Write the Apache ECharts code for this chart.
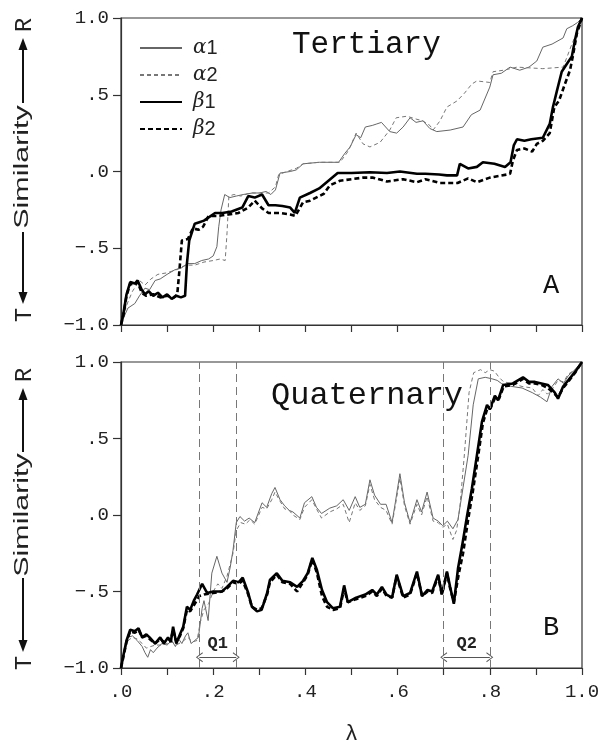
<!DOCTYPE html>
<html>
<head>
<meta charset="utf-8">
<script src="https://cdn.jsdelivr.net/npm/echarts@6/dist/echarts.min.js"></script>
<style>
html,body{margin:0;padding:0;background:#fff;}
#chart{width:604px;height:744px;}
</style>
</head>
<body>
<div id="chart"></div>
<script>
// ---------- data ----------
const seriesNames = ['α1', 'α2', 'β1', 'β2'];
const panelTitles = ['Tertiary', 'Quaternary'];
const panelLetters = ['A', 'B'];
const xTicks = [0, 0.2, 0.4, 0.6, 0.8, 1.0];
const yTicks = [-1, -0.5, 0, 0.5, 1];
const dividers = [0.17, 0.25, 0.70, 0.80];
const rangeNames = ['Q1', 'Q2'];
const rangeStart = [0.17, 0.70];
const rangeEnd = [0.25, 0.80];
const rangeY = -0.93;

const tertA1 = [[0,-1],[0.006,-0.95],[0.015,-0.89],[0.03,-0.86],[0.04,-0.81],[0.052,-0.76],[0.062,-0.77],[0.074,-0.71],[0.085,-0.70],[0.1,-0.67],[0.117,-0.64],[0.13,-0.63],[0.145,-0.60],[0.16,-0.60],[0.175,-0.58],[0.19,-0.57],[0.2,-0.55],[0.208,-0.49],[0.212,-0.36],[0.217,-0.25],[0.225,-0.15],[0.236,-0.17],[0.25,-0.16],[0.265,-0.15],[0.285,-0.14],[0.3,-0.14],[0.315,-0.13],[0.325,-0.15],[0.335,-0.12],[0.345,-0.01],[0.367,0.0],[0.38,0.01],[0.395,0.05],[0.43,0.06],[0.472,0.06],[0.486,0.12],[0.497,0.16],[0.51,0.24],[0.52,0.22],[0.53,0.29],[0.545,0.30],[0.555,0.31],[0.565,0.32],[0.583,0.26],[0.598,0.25],[0.612,0.29],[0.627,0.35],[0.64,0.32],[0.655,0.33],[0.67,0.28],[0.685,0.26],[0.714,0.27],[0.742,0.29],[0.76,0.37],[0.779,0.40],[0.8,0.55],[0.807,0.63],[0.825,0.64],[0.844,0.68],[0.865,0.66],[0.885,0.68],[0.902,0.72],[0.915,0.81],[0.935,0.83],[0.959,0.87],[0.967,0.93],[0.98,0.95],[0.99,0.97],[1,1]];
const tertA2 = [[0,-1],[0.006,-0.93],[0.015,-0.85],[0.025,-0.78],[0.04,-0.71],[0.052,-0.74],[0.065,-0.70],[0.08,-0.67],[0.1,-0.66],[0.12,-0.64],[0.14,-0.61],[0.16,-0.61],[0.18,-0.59],[0.2,-0.58],[0.215,-0.57],[0.226,-0.58],[0.23,-0.40],[0.234,-0.16],[0.245,-0.15],[0.26,-0.16],[0.28,-0.14],[0.3,-0.14],[0.32,-0.14],[0.335,-0.10],[0.342,-0.02],[0.36,0.0],[0.38,0.02],[0.395,0.05],[0.43,0.06],[0.475,0.06],[0.49,0.12],[0.497,0.16],[0.51,0.25],[0.525,0.18],[0.54,0.16],[0.562,0.19],[0.583,0.27],[0.597,0.35],[0.62,0.36],[0.642,0.34],[0.655,0.33],[0.67,0.30],[0.677,0.27],[0.692,0.33],[0.707,0.42],[0.729,0.46],[0.745,0.51],[0.761,0.57],[0.772,0.59],[0.8,0.58],[0.807,0.65],[0.83,0.66],[0.859,0.68],[0.915,0.67],[0.959,0.68],[0.968,0.75],[0.978,0.83],[0.988,0.90],[1,1]];
const tertB1 = [[0,-1],[0.005,-0.93],[0.012,-0.80],[0.02,-0.72],[0.03,-0.73],[0.036,-0.71],[0.045,-0.77],[0.052,-0.80],[0.06,-0.78],[0.07,-0.81],[0.08,-0.79],[0.09,-0.82],[0.1,-0.80],[0.11,-0.83],[0.12,-0.81],[0.13,-0.82],[0.139,-0.81],[0.143,-0.60],[0.148,-0.45],[0.16,-0.34],[0.17,-0.33],[0.18,-0.32],[0.204,-0.27],[0.22,-0.27],[0.24,-0.26],[0.263,-0.235],[0.276,-0.16],[0.29,-0.17],[0.306,-0.15],[0.32,-0.22],[0.335,-0.22],[0.35,-0.225],[0.367,-0.235],[0.377,-0.27],[0.388,-0.17],[0.41,-0.14],[0.43,-0.11],[0.45,-0.06],[0.47,-0.01],[0.5,-0.01],[0.54,-0.005],[0.577,-0.01],[0.605,0.0],[0.642,-0.015],[0.66,-0.015],[0.69,-0.02],[0.707,-0.025],[0.729,-0.025],[0.735,0.05],[0.753,0.02],[0.772,0.03],[0.785,0.06],[0.81,0.05],[0.833,0.03],[0.845,0.06],[0.852,0.17],[0.859,0.21],[0.875,0.20],[0.89,0.21],[0.915,0.22],[0.93,0.31],[0.937,0.42],[0.946,0.53],[0.956,0.65],[0.967,0.70],[0.978,0.75],[0.985,0.86],[0.991,0.94],[1,1]];
const tertB2 = [[0,-1],[0.005,-0.94],[0.012,-0.81],[0.02,-0.73],[0.03,-0.74],[0.036,-0.72],[0.045,-0.79],[0.055,-0.81],[0.07,-0.80],[0.085,-0.82],[0.1,-0.81],[0.115,-0.82],[0.122,-0.80],[0.126,-0.67],[0.132,-0.45],[0.145,-0.44],[0.156,-0.37],[0.168,-0.38],[0.178,-0.36],[0.19,-0.29],[0.21,-0.29],[0.233,-0.28],[0.255,-0.27],[0.276,-0.235],[0.29,-0.19],[0.306,-0.24],[0.32,-0.27],[0.345,-0.27],[0.367,-0.28],[0.378,-0.29],[0.395,-0.20],[0.41,-0.19],[0.44,-0.145],[0.453,-0.09],[0.475,-0.06],[0.5,-0.05],[0.525,-0.04],[0.547,-0.04],[0.577,-0.065],[0.612,-0.05],[0.642,-0.07],[0.66,-0.05],[0.692,-0.075],[0.73,-0.075],[0.753,-0.045],[0.772,-0.07],[0.8,-0.04],[0.837,-0.02],[0.844,-0.015],[0.85,0.07],[0.859,0.14],[0.875,0.15],[0.892,0.13],[0.902,0.18],[0.915,0.20],[0.93,0.25],[0.94,0.42],[0.95,0.46],[0.963,0.57],[0.974,0.66],[0.98,0.75],[0.989,0.90],[1,1]];

const quatA1 = [[0,-1],[0.008,-0.88],[0.015,-0.80],[0.025,-0.79],[0.035,-0.82],[0.046,-0.86],[0.052,-0.90],[0.058,-0.93],[0.064,-0.88],[0.07,-0.90],[0.078,-0.87],[0.089,-0.84],[0.1,-0.85],[0.11,-0.82],[0.118,-0.86],[0.125,-0.81],[0.132,-0.84],[0.14,-0.79],[0.145,-0.77],[0.152,-0.84],[0.16,-0.82],[0.168,-0.80],[0.176,-0.61],[0.18,-0.56],[0.189,-0.69],[0.197,-0.38],[0.208,-0.27],[0.219,-0.38],[0.23,-0.44],[0.237,-0.34],[0.243,-0.23],[0.25,-0.05],[0.258,-0.01],[0.268,-0.04],[0.278,-0.02],[0.29,-0.05],[0.306,0.08],[0.316,0.05],[0.327,0.14],[0.334,0.18],[0.345,0.10],[0.355,0.06],[0.365,0.03],[0.373,0.02],[0.388,-0.02],[0.398,0.08],[0.414,0.12],[0.424,0.05],[0.435,0.01],[0.453,0.045],[0.468,0.06],[0.482,0.10],[0.495,0.03],[0.508,0.12],[0.518,0.05],[0.53,0.07],[0.54,0.23],[0.55,0.13],[0.563,0.07],[0.575,0.07],[0.588,-0.05],[0.595,0.08],[0.605,0.27],[0.615,0.08],[0.627,-0.05],[0.642,0.10],[0.652,0.02],[0.664,0.15],[0.677,-0.02],[0.688,-0.04],[0.698,-0.07],[0.708,-0.04],[0.72,-0.09],[0.731,-0.03],[0.742,0.18],[0.753,0.39],[0.764,0.72],[0.775,0.89],[0.79,0.90],[0.805,0.89],[0.816,0.88],[0.825,0.86],[0.833,0.85],[0.848,0.84],[0.87,0.83],[0.892,0.80],[0.91,0.77],[0.924,0.74],[0.935,0.84],[0.948,0.89],[0.96,0.86],[0.97,0.91],[0.985,0.95],[1,1]];
const quatA2 = [[0,-1],[0.008,-0.89],[0.015,-0.82],[0.025,-0.80],[0.035,-0.81],[0.046,-0.84],[0.055,-0.87],[0.064,-0.86],[0.075,-0.85],[0.089,-0.85],[0.1,-0.84],[0.11,-0.83],[0.12,-0.85],[0.132,-0.83],[0.145,-0.80],[0.155,-0.83],[0.165,-0.82],[0.172,-0.70],[0.18,-0.62],[0.19,-0.58],[0.2,-0.50],[0.21,-0.45],[0.219,-0.48],[0.23,-0.40],[0.243,-0.25],[0.25,-0.10],[0.26,-0.05],[0.27,-0.06],[0.28,-0.03],[0.29,-0.06],[0.306,0.05],[0.316,0.04],[0.327,0.10],[0.334,0.15],[0.345,0.09],[0.355,0.04],[0.365,0.03],[0.373,0.0],[0.388,-0.03],[0.398,0.05],[0.414,0.10],[0.424,0.04],[0.435,-0.02],[0.453,0.02],[0.468,0.04],[0.482,0.07],[0.495,-0.05],[0.508,0.08],[0.518,0.03],[0.53,0.06],[0.54,0.20],[0.55,0.10],[0.563,0.05],[0.575,0.03],[0.588,-0.06],[0.595,0.06],[0.605,0.24],[0.615,0.06],[0.627,-0.06],[0.642,0.07],[0.652,0.0],[0.664,0.12],[0.677,-0.04],[0.688,-0.05],[0.698,-0.08],[0.708,-0.06],[0.72,-0.16],[0.728,-0.10],[0.735,0.05],[0.745,0.40],[0.755,0.80],[0.765,0.93],[0.78,0.95],[0.79,0.93],[0.8,0.95],[0.81,0.94],[0.82,0.90],[0.83,0.87],[0.848,0.86],[0.87,0.84],[0.892,0.83],[0.905,0.78],[0.915,0.82],[0.925,0.79],[0.935,0.82],[0.948,0.88],[0.96,0.87],[0.97,0.92],[0.985,0.95],[1,1]];
const quatB1 = [[0,-1],[0.005,-0.92],[0.012,-0.82],[0.02,-0.75],[0.03,-0.76],[0.038,-0.74],[0.046,-0.80],[0.055,-0.78],[0.062,-0.80],[0.074,-0.84],[0.085,-0.80],[0.093,-0.84],[0.102,-0.80],[0.108,-0.83],[0.113,-0.73],[0.12,-0.84],[0.128,-0.78],[0.135,-0.73],[0.143,-0.60],[0.15,-0.62],[0.158,-0.56],[0.165,-0.52],[0.176,-0.45],[0.187,-0.51],[0.2,-0.50],[0.219,-0.50],[0.23,-0.47],[0.243,-0.43],[0.255,-0.44],[0.264,-0.41],[0.276,-0.51],[0.284,-0.60],[0.295,-0.63],[0.305,-0.62],[0.317,-0.51],[0.323,-0.425],[0.338,-0.38],[0.35,-0.43],[0.367,-0.44],[0.382,-0.47],[0.395,-0.43],[0.405,-0.38],[0.415,-0.28],[0.425,-0.36],[0.436,-0.49],[0.447,-0.57],[0.46,-0.61],[0.475,-0.60],[0.484,-0.46],[0.492,-0.57],[0.51,-0.54],[0.53,-0.52],[0.545,-0.49],[0.555,-0.52],[0.566,-0.47],[0.576,-0.52],[0.588,-0.54],[0.598,-0.39],[0.612,-0.53],[0.627,-0.51],[0.642,-0.37],[0.653,-0.53],[0.665,-0.49],[0.675,-0.50],[0.688,-0.39],[0.696,-0.52],[0.707,-0.37],[0.714,-0.47],[0.722,-0.58],[0.731,-0.35],[0.74,-0.20],[0.751,0.0],[0.761,0.17],[0.772,0.39],[0.783,0.61],[0.794,0.72],[0.8,0.69],[0.811,0.78],[0.818,0.75],[0.829,0.85],[0.85,0.86],[0.872,0.90],[0.885,0.87],[0.898,0.87],[0.912,0.86],[0.926,0.85],[0.941,0.80],[0.948,0.76],[0.959,0.84],[0.97,0.88],[0.985,0.935],[1,1]];
const quatB2 = [[0,-1],[0.005,-0.93],[0.012,-0.83],[0.02,-0.76],[0.03,-0.77],[0.038,-0.75],[0.046,-0.80],[0.055,-0.79],[0.062,-0.81],[0.074,-0.84],[0.085,-0.81],[0.093,-0.83],[0.102,-0.81],[0.108,-0.82],[0.113,-0.75],[0.12,-0.83],[0.128,-0.79],[0.135,-0.74],[0.143,-0.62],[0.15,-0.63],[0.16,-0.58],[0.17,-0.53],[0.18,-0.52],[0.2,-0.51],[0.219,-0.50],[0.23,-0.48],[0.243,-0.44],[0.255,-0.45],[0.264,-0.43],[0.276,-0.52],[0.284,-0.60],[0.295,-0.62],[0.305,-0.61],[0.317,-0.52],[0.323,-0.44],[0.338,-0.39],[0.35,-0.44],[0.367,-0.45],[0.382,-0.50],[0.395,-0.44],[0.405,-0.39],[0.415,-0.29],[0.425,-0.38],[0.436,-0.53],[0.447,-0.60],[0.46,-0.62],[0.475,-0.61],[0.484,-0.48],[0.492,-0.57],[0.51,-0.55],[0.53,-0.53],[0.545,-0.50],[0.555,-0.53],[0.566,-0.48],[0.576,-0.53],[0.588,-0.54],[0.598,-0.40],[0.612,-0.54],[0.627,-0.52],[0.642,-0.38],[0.653,-0.53],[0.665,-0.50],[0.675,-0.51],[0.688,-0.40],[0.696,-0.52],[0.707,-0.38],[0.714,-0.48],[0.722,-0.57],[0.733,-0.38],[0.742,-0.25],[0.753,-0.03],[0.763,0.15],[0.774,0.37],[0.785,0.60],[0.795,0.70],[0.802,0.70],[0.812,0.77],[0.82,0.76],[0.83,0.84],[0.85,0.85],[0.872,0.89],[0.885,0.86],[0.898,0.86],[0.912,0.85],[0.926,0.83],[0.941,0.79],[0.948,0.77],[0.959,0.83],[0.97,0.87],[0.985,0.93],[1,1]];

// ---------- styling ----------
const MONO = '"Liberation Mono","DejaVu Sans Mono",monospace';
const SANS = '"Liberation Sans","DejaVu Sans",sans-serif';
const styles = [
  {color:'#666', width:1, type:'solid'},
  {color:'#777', width:1, type:[4,3]},
  {color:'#000', width:2.6, type:'solid'},
  {color:'#000', width:2.6, type:[5,3]}
];
function fmt(v){
  let s = Math.abs(v).toFixed(1);
  if (Math.abs(v) < 1) s = s.slice(1);
  return (v < 0 ? '\u2212' : '') + s;
}

const grids = [
  {left:121, top:18, width:461, height:307},
  {left:121, top:362, width:461, height:306}
];

function xAxisFor(i){
  return {
    type:'value', gridIndex:i, min:0, max:1, interval:0.1,
    axisLine:{show:true, onZero:false, lineStyle:{color:'#333', width:1.2}},
    axisTick:{show:true, length:7, inside:false, lineStyle:{color:'#333', width:1.2}},
    splitLine:{show:false},
    axisLabel:{
      show: i === 1,
      margin: 14,
      fontFamily: MONO, fontSize: 19, color:'#222',
      formatter: v => xTicks.some(t => Math.abs(t - v) < 1e-6) ? fmt(v) : ''
    },
    name: i === 1 ? 'λ' : '',
    nameLocation:'middle', nameGap:55,
    nameTextStyle:{fontFamily:SANS, fontSize:22, color:'#222'}
  };
}
function yAxisFor(i){
  return {
    type:'value', gridIndex:i, min:-1, max:1, interval:0.5,
    axisLine:{show:true, onZero:false, lineStyle:{color:'#333', width:1.2}},
    axisTick:{show:true, length:8, inside:false, lineStyle:{color:'#333', width:1.2}},
    splitLine:{show:false},
    axisLabel:{
      margin: 12, fontFamily: MONO, fontSize: 19, color:'#222',
      formatter: v => yTicks.some(t => Math.abs(t - v) < 1e-6) ? fmt(v) : ''
    }
  };
}

const panels = [[tertA1, tertA2, tertB1, tertB2], [quatA1, quatA2, quatB1, quatB2]];
const series = [];
panels.forEach((arrs, p) => {
  arrs.forEach((d, k) => {
    series.push({
      type:'line', name: seriesNames[k], xAxisIndex:p, yAxisIndex:p,
      data: d, symbol:'none', smooth:false, animation:false,
      lineStyle: {color: styles[k].color, width: styles[k].width, type: styles[k].type},
      itemStyle: {color: styles[k].color},
      z: k >= 2 ? 3 : 2
    });
  });
});
// divider lines (bottom panel)
series.push({
  type:'line', name:'dividers', xAxisIndex:1, yAxisIndex:1, data:[], animation:false,
  markLine:{
    silent:true, animation:false, symbol:['none','none'],
    label:{show:false},
    lineStyle:{color:'#777', width:1, type:[8,5]},
    data: dividers.map(v => ({xAxis:v}))
  }
});
// Q1 / Q2 range arrows
const chevron = 'path://M0,10 L5,0 L10,10 L9,10.6 L5,2.2 L1,10.6 Z';
series.push({
  type:'line', name:'ranges', xAxisIndex:1, yAxisIndex:1, data:[], animation:false,
  markLine:{
    silent:true, animation:false, symbol:[chevron, chevron], symbolSize:[10,7],
    lineStyle:{color:'#555', width:1, type:'solid'},
    label:{show:true, position:'insideMiddleTop', distance:5, formatter:'{b}',
      fontFamily:MONO, fontSize:17, fontWeight:'bold', color:'#222'},
    data: rangeNames.map((n, i) => [{name:n, coord:[rangeStart[i], rangeY]}, {coord:[rangeEnd[i], rangeY]}])
  }
});

// y-axis titles (T <- Similarity -> R) per panel
function yTitle(top, bottom, simCenter, simStart, simEnd){
  const cx = 23;
  const els = [];
  els.push({type:'text', x:cx+2, y:top+8, rotation:Math.PI/2,
    style:{text:'R', fontFamily:MONO, fontSize:24, fill:'#222', align:'center', verticalAlign:'middle'}});
  els.push({type:'polygon', shape:{points:[[cx,top+21],[cx-4.5,top+33],[cx+4.5,top+33]]}, style:{fill:'#111'}});
  els.push({type:'line', shape:{x1:cx, y1:top+32, x2:cx, y2:simStart}, style:{stroke:'#111', lineWidth:2}});
  els.push({type:'text', x:cx-1, y:simCenter, rotation:Math.PI/2, scaleX:1.45,
    style:{text:'Similarity', fontFamily:SANS, fontSize:21, fill:'#222', align:'center', verticalAlign:'middle'}});
  els.push({type:'line', shape:{x1:cx, y1:simEnd, x2:cx, y2:bottom-24}, style:{stroke:'#111', lineWidth:2}});
  els.push({type:'polygon', shape:{points:[[cx,bottom-13],[cx-4.5,bottom-25],[cx+4.5,bottom-25]]}, style:{fill:'#111'}});
  els.push({type:'text', x:cx+2, y:bottom-2, rotation:Math.PI/2,
    style:{text:'T', fontFamily:MONO, fontSize:24, fill:'#222', align:'center', verticalAlign:'middle'}});
  return els;
}

const graphic = [].concat(
  yTitle(17, 317, 167, 103, 232),
  yTitle(367, 665, 515, 452, 578),
  [
    {type:'text', x:292, y:45, style:{text:panelTitles[0], fontFamily:MONO, fontSize:31, fill:'#111', align:'left', verticalAlign:'middle'}},
    {type:'text', x:271, y:396, style:{text:panelTitles[1], fontFamily:MONO, fontSize:32, fill:'#111', align:'left', verticalAlign:'middle'}},
    {type:'text', x:551, y:286, style:{text:panelLetters[0], fontFamily:MONO, fontSize:27, fill:'#111', align:'center', verticalAlign:'middle'}},
    {type:'text', x:551, y:628, style:{text:panelLetters[1], fontFamily:MONO, fontSize:27, fill:'#111', align:'center', verticalAlign:'middle'}}
  ]
);

const chart = echarts.init(document.getElementById('chart'), null, {renderer:'canvas'});
chart.setOption({
  backgroundColor:'#fff',
  animation:false,
  grid: grids.map(g => Object.assign({show:true, borderColor:'#333', borderWidth:1.2, backgroundColor:'transparent',
    containLabel:false, outerBoundsMode:'none'}, g)),
  xAxis: [xAxisFor(0), xAxisFor(1)],
  yAxis: [yAxisFor(0), yAxisFor(1)],
  legend: {
    data: seriesNames, orient:'vertical', left:134, top:33,
    itemWidth:42, itemHeight:14, itemGap:7,
    itemStyle:{opacity:0, color:'transparent', borderWidth:0},
    textStyle:{fontFamily:SANS, fontSize:20, color:'#222', lineHeight:20, padding:[0,0,0,6],
      rich:{g:{fontFamily:'"DejaVu Serif",serif', fontStyle:'italic', fontSize:20, color:'#222'}, n:{fontFamily:SANS, fontSize:20, color:'#222'}}},
    formatter: n => '{g|' + n.charAt(0) + '}{n|' + n.slice(1) + '}',
    selectedMode:false
  },
  series: series,
  graphic: graphic
});
</script>
</body>
</html>
